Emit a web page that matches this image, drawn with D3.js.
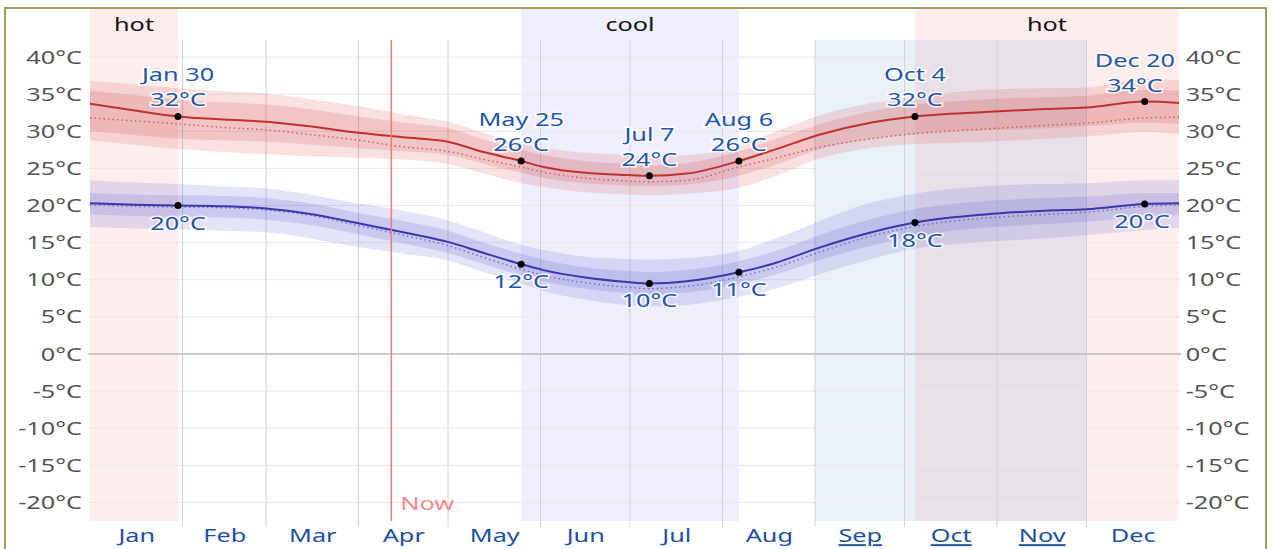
<!DOCTYPE html>
<html>
<head>
<meta charset="utf-8">
<script src="https://cdn.jsdelivr.net/npm/d3@7"></script>
<style>
  body { margin: 0; background: #fff; }
  svg { font-family: "Noto Sans", "Open Sans", sans-serif; }
</style>
</head>
<body>
<div class="chart"></div>
<script>
// sample days (day of year, Jan 1 = 0)
const days      = [0, 15, 29.5, 45, 59, 75, 90, 105, 120, 132, 144.5, 152, 166, 180, 187.5, 200, 217.5, 230, 245, 262, 276.5, 300, 320, 334, 353.5, 365];
// daily high
const highAvg   = [33.7, 32.8, 32.0, 31.6, 31.3, 30.6, 29.8, 29.2, 28.6, 27.2, 26.0, 25.2, 24.4, 24.1, 24.0, 24.3, 26.0, 27.6, 29.6, 31.2, 32.0, 32.6, 33.0, 33.2, 34.0, 33.8];
const highFeels = [31.8, 31.4, 31.0, 30.5, 30.2, 29.5, 28.8, 27.9, 27.3, 26.2, 25.2, 24.5, 23.7, 23.3, 23.2, 23.4, 25.2, 26.4, 27.9, 29.0, 29.7, 30.3, 30.8, 31.1, 31.8, 31.9];
const highP90   = [36.8, 36.3, 35.8, 35.4, 35.1, 34.3, 33.4, 32.3, 31.3, 29.8, 28.3, 27.8, 27.1, 26.8, 26.6, 26.8, 28.0, 30.0, 32.2, 33.8, 34.6, 35.6, 35.8, 35.9, 37.0, 36.9];
const highP75   = [35.5, 34.9, 34.2, 33.9, 33.6, 32.9, 32.0, 31.2, 30.4, 28.9, 27.5, 26.8, 26.0, 25.6, 25.4, 25.7, 27.3, 29.0, 31.0, 32.7, 33.6, 34.3, 34.6, 34.8, 35.6, 35.5];
const highP25   = [30.0, 29.5, 29.0, 28.8, 28.6, 28.2, 27.7, 27.3, 26.8, 25.6, 24.4, 23.7, 23.0, 22.7, 22.6, 22.8, 24.0, 25.5, 27.6, 29.0, 29.6, 30.1, 30.4, 30.7, 31.2, 31.0];
const highP10   = [28.8, 28.2, 27.6, 27.2, 26.9, 26.6, 26.4, 26.2, 25.6, 24.3, 23.0, 22.5, 21.8, 21.5, 21.4, 21.6, 22.4, 24.0, 26.4, 27.8, 28.3, 28.6, 29.0, 29.3, 29.9, 29.6];
// daily low
const lowAvg    = [20.3, 20.1, 20.0, 19.9, 19.6, 18.8, 17.6, 16.4, 15.1, 13.6, 12.1, 11.3, 10.3, 9.7, 9.5, 9.8, 11.0, 12.3, 14.4, 16.4, 17.7, 18.8, 19.3, 19.5, 20.2, 20.3];
const lowFeels  = [20.1, 19.9, 19.8, 19.7, 19.4, 18.6, 17.3, 16.0, 14.6, 13.0, 11.4, 10.6, 9.6, 9.0, 8.8, 9.1, 10.4, 11.7, 13.8, 15.9, 17.2, 18.3, 18.8, 19.1, 19.9, 20.1];
const lowP90    = [23.4, 23.1, 22.9, 22.6, 22.3, 21.4, 20.3, 19.3, 18.0, 16.4, 14.7, 14.0, 13.1, 12.8, 12.7, 12.9, 13.9, 15.6, 18.0, 20.4, 21.6, 22.6, 22.9, 23.0, 23.4, 23.4];
const lowP75    = [21.7, 21.5, 21.4, 21.3, 21.0, 20.2, 19.0, 17.9, 16.6, 15.0, 13.5, 12.7, 11.7, 11.2, 11.0, 11.3, 12.5, 13.9, 16.1, 18.2, 19.5, 20.6, 21.0, 21.2, 21.7, 21.7];
const lowP25    = [18.8, 18.6, 18.5, 18.4, 18.1, 17.3, 16.1, 14.9, 13.6, 12.1, 10.6, 9.8, 8.8, 8.2, 8.0, 8.3, 9.4, 10.7, 12.7, 14.6, 15.9, 17.0, 17.5, 17.8, 18.5, 18.7];
const lowP10    = [17.1, 16.9, 16.8, 16.6, 16.4, 15.5, 14.4, 13.5, 12.6, 11.0, 9.5, 8.5, 7.3, 6.6, 6.4, 6.6, 7.7, 8.8, 10.8, 12.8, 14.2, 15.1, 15.6, 16.0, 16.7, 17.0];

// annotations
const markDays   = [29.5, 144.5, 187.5, 217.5, 276.5, 353.5];
const markLabels = ["Jan 30", "May 25", "Jul 7", "Aug 6", "Oct 4", "Dec 20"];
const markHigh   = [32, 26, 24, 26, 32, 34];
const markLow    = [20, 12, 10, 11, 18, 20];

// seasons
const hotSeasons  = [[0, 29.5], [276.5, 365]];
const coolSeasons = [[144.5, 217.5]];
const seasonNames = [["hot", 0, 29.5], ["cool", 144.5, 217.5], ["hot", 276.5, 365]];
const selected    = [[243, 334]];
const nowDay = 101;

const months      = ["Jan","Feb","Mar","Apr","May","Jun","Jul","Aug","Sep","Oct","Nov","Dec"];
const monthStarts = [0, 31, 59, 90, 120, 151, 181, 212, 243, 273, 304, 334, 365];
const underlined  = ["Sep","Oct","Nov"];
const yTicks      = [-20,-15,-10,-5,0,5,10,15,20,25,30,35,40];

const W = 1277, H = 549;
const plotLeft = 90, plotRight = 1179, plotTop = 40, plotBottom = 521;
const sx = 1.33; // the picture's text is drawn wide

const svg = d3.select('.chart').append('svg')
    .attr('width', W).attr('height', H);

const x = d3.scaleLinear().domain([0, 365]).range([plotLeft, plotRight]);
const y = d3.scaleLinear().domain([-22.5, 42.3]).range([plotBottom, plotTop]);

// put a text at (cx, cy) stretched horizontally
const place = (sel, cx, cy) => sel.attr('x', 0).attr('y', 0)
    .attr('transform', `translate(${cx},${cy}) scale(${sx},1)`);

// season backgrounds
svg.selectAll('.hot').data(hotSeasons).enter().append('rect')
    .attr('x', d => x(d[0])).attr('width', d => x(d[1]) - x(d[0]))
    .attr('y', 8).attr('height', plotBottom - 8)
    .attr('fill', '#fdeded');
svg.selectAll('.cool').data(coolSeasons).enter().append('rect')
    .attr('x', d => x(d[0])).attr('width', d => x(d[1]) - x(d[0]))
    .attr('y', 8).attr('height', plotBottom - 8)
    .attr('fill', '#eeeefc');
svg.selectAll('.sel').data(selected).enter().append('rect')
    .attr('x', d => x(d[0])).attr('width', d => x(d[1]) - x(d[0]))
    .attr('y', plotTop).attr('height', plotBottom - plotTop)
    .attr('fill', 'rgba(80,135,200,0.12)');

// season labels
svg.selectAll('.season').data(seasonNames).enter().append('text')
    .each(function(d) { place(d3.select(this), (x(d[1]) + x(d[2])) / 2, 31); })
    .attr('text-anchor', 'middle')
    .attr('font-size', 19).attr('fill', '#111')
    .text(d => d[0]);

// horizontal grid
svg.selectAll('.hgrid').data(yTicks).enter().append('line')
    .attr('x1', 88).attr('x2', 1181)
    .attr('y1', d => y(d)).attr('y2', d => y(d))
    .attr('stroke', d => d === 0 ? '#b8b8b8' : '#e9e9e9')
    .attr('stroke-width', d => d === 0 ? 1.5 : 1);

// vertical grid at month boundaries
svg.selectAll('.vgrid').data(monthStarts.slice(1, -1)).enter().append('line')
    .attr('x1', d => x(d)).attr('x2', d => x(d))
    .attr('y1', plotTop).attr('y2', 527)
    .attr('stroke', '#d0d0d6').attr('stroke-width', 1);

// axes
const fmt = d => d + "°C";
const yLeft = svg.append('g').attr('transform', `translate(${plotLeft},0)`)
    .call(d3.axisLeft(y).tickValues(yTicks).tickFormat(fmt).tickSize(0).tickPadding(6));
const yRight = svg.append('g').attr('transform', `translate(${plotRight},0)`)
    .call(d3.axisRight(y).tickValues(yTicks).tickFormat(fmt).tickSize(0).tickPadding(5));
[yLeft, yRight].forEach(g => {
    g.select('.domain').remove();
    g.selectAll('text').attr('font-size', 19).attr('fill', '#555')
        .attr('font-family', '"Noto Sans", sans-serif')
        .attr('transform', `scale(${sx},1)`);
});

const monthMid = months.map((m, i) => (monthStarts[i] + monthStarts[i + 1]) / 2);
const xAxis = svg.append('g').attr('transform', `translate(0,${plotBottom})`)
    .call(d3.axisBottom(x).tickValues(monthMid).tickFormat((d, i) => months[i]).tickSize(0).tickPadding(8));
xAxis.select('.domain').remove();
xAxis.selectAll('text').attr('font-size', 19).attr('fill', '#2150a0')
    .attr('font-family', '"Noto Sans", sans-serif')
    .attr('transform', `scale(${sx},1)`)
    .attr('text-decoration', (d, i) => underlined.includes(months[i]) ? 'underline' : null);

// bands and lines
const area = (lo, hi) => d3.area()
    .x((d, i) => x(days[i])).y0((d, i) => y(lo[i])).y1((d, i) => y(hi[i]))
    .curve(d3.curveMonotoneX)(days);
const line = vals => d3.line()
    .x((d, i) => x(days[i])).y((d, i) => y(vals[i]))
    .curve(d3.curveMonotoneX)(days);

svg.append('path').attr('d', area(highP10, highP90)).attr('fill', 'rgba(215,70,70,0.16)');
svg.append('path').attr('d', area(highP25, highP75)).attr('fill', 'rgba(200,60,60,0.17)');
svg.append('path').attr('d', area(lowP10, lowP90)).attr('fill', 'rgba(90,90,210,0.16)');
svg.append('path').attr('d', area(lowP25, lowP75)).attr('fill', 'rgba(80,80,200,0.17)');

svg.append('path').attr('d', line(highFeels)).attr('fill', 'none')
    .attr('stroke', '#d06060').attr('stroke-width', 1.5).attr('stroke-dasharray', '1.5 3');
svg.append('path').attr('d', line(lowFeels)).attr('fill', 'none')
    .attr('stroke', '#7070c0').attr('stroke-width', 1.5).attr('stroke-dasharray', '1.5 3');
svg.append('path').attr('d', line(highAvg)).attr('fill', 'none')
    .attr('stroke', '#c0302e').attr('stroke-width', 2);
svg.append('path').attr('d', line(lowAvg)).attr('fill', 'none')
    .attr('stroke', '#3d35ad').attr('stroke-width', 2);

// now line
svg.append('line').attr('x1', x(nowDay)).attr('x2', x(nowDay))
    .attr('y1', plotTop).attr('y2', plotBottom)
    .attr('stroke', '#ee7a7a').attr('stroke-width', 1.5);
svg.append('text').call(place, x(nowDay) + 9, 510)
    .attr('font-size', 19).attr('fill', '#f08a8a').text('Now');

// annotations
const labelStyle = sel => sel.attr('font-size', 19).attr('fill', '#2356a8')
    .attr('text-anchor', 'middle')
    .attr('stroke', 'rgba(255,255,255,0.8)').attr('stroke-width', 3)
    .attr('paint-order', 'stroke');

markDays.forEach((d, k) => {
    const i = days.indexOf(d);
    const px = x(d);
    const hy = y(highAvg[i]), ly = y(lowAvg[i]);

    const g = svg.append('g');
    const t1 = g.append('text').text(markLabels[k]).call(labelStyle);
    const t2 = g.append('text').text(markHigh[k] + '°C').call(labelStyle);
    const wHigh = sx * Math.max(t1.node().getComputedTextLength(), t2.node().getComputedTextLength());
    const cx = Math.min(px, plotRight - wHigh / 2 - 4);
    t1.call(place, cx, hy - 35);
    t2.call(place, cx, hy - 10);

    const t3 = g.append('text').text(markLow[k] + '°C').call(labelStyle);
    const wLow = sx * t3.node().getComputedTextLength();
    t3.call(place, Math.min(px, plotRight - wLow / 2 - 9), ly + 24);

    g.append('circle').attr('cx', px).attr('cy', hy).attr('r', 3.5).attr('fill', '#000');
    g.append('circle').attr('cx', px).attr('cy', ly).attr('r', 3.5).attr('fill', '#000');
});

// frame
svg.append('rect').attr('x', 5).attr('y', 8).attr('width', 1261).attr('height', 570)
    .attr('fill', 'none').attr('stroke', '#a59c5f').attr('stroke-width', 2);
</script>
</body>
</html>
